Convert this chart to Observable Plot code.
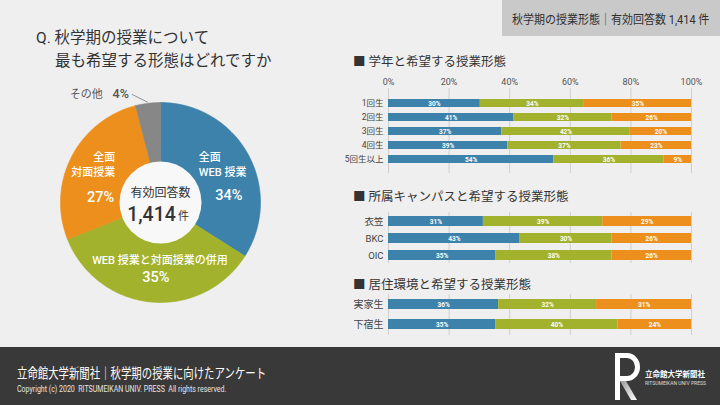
<!DOCTYPE html>
<html><head><meta charset="utf-8">
<script src="https://cdn.jsdelivr.net/npm/d3@7"></script>
<script src="https://cdn.jsdelivr.net/npm/@observablehq/plot@0.6"></script>
<style>
html,body{margin:0;padding:0;}
body{width:720px;height:405px;background:#efefef;position:relative;overflow:hidden;font-family:Roboto,"Noto Sans CJK JP",sans-serif;color:#333;}
.abs{position:absolute;white-space:nowrap;}
.hdr{font-size:12.5px;color:#333;}
</style></head>
<body>
<div class="abs" style="left:502px;top:0;width:218px;height:36px;background:#c9c9c9;"></div>
<div class="abs" style="left:512px;top:9px;font-size:12.5px;color:#2f2f2f;transform:scaleX(0.88);transform-origin:left top;">秋学期の授業形態｜有効回答数 1,414 件</div>
<div class="abs" style="left:36px;top:25px;font-size:15.5px;color:#333;">Q. 秋学期の授業について</div>
<div class="abs" style="left:55px;top:48px;font-size:15.5px;color:#333;">最も希望する形態はどれですか</div>

<div class="abs hdr" style="left:353px;top:51px;">■ 学年と希望する授業形態</div>
<div class="abs hdr" style="left:353px;top:186px;">■ 所属キャンパスと希望する授業形態</div>
<div class="abs hdr" style="left:353px;top:274px;">■ 居住環境と希望する授業形態</div>

<div id="donut" class="abs" style="left:40px;top:82px;"></div>
<div id="c1" class="abs" style="left:340px;top:68px;"></div>
<div id="c2" class="abs" style="left:340px;top:205px;"></div>
<div id="c3" class="abs" style="left:340px;top:288px;"></div>

<div class="abs" style="left:0;top:347px;width:720px;height:58px;background:#3a3939;"></div>
<div class="abs" style="left:17px;top:362px;font-size:13.5px;color:#fff;transform:scaleX(0.77);transform-origin:left top;">立命館大学新聞社｜秋学期の授業に向けたアンケート</div>
<div class="abs" style="left:17px;top:384px;font-size:9px;color:#e6e6e6;transform:scaleX(0.78);transform-origin:left top;">Copyright (c) 2020&nbsp; RITSUMEIKAN UNIV. PRESS&nbsp; All rights reserved.</div>
<svg class="abs" style="left:610px;top:350px;" width="32" height="54" viewBox="0 0 32 54">
  <defs><linearGradient id="lg" x1="0" y1="0" x2="1" y2="1"><stop offset="0" stop-color="#9a9a9a"/><stop offset="1" stop-color="#ffffff"/></linearGradient></defs>
  <rect x="5" y="3" width="5" height="47" fill="#fff"/>
  <path d="M7,5.5 H17 A10.5,11.5 0 0 1 17,28.5 H10" stroke="#fff" stroke-width="5" fill="none"/>
  <polygon points="10,31 16,31 27,50 21,50" fill="url(#lg)"/>
</svg>
<div class="abs" style="left:645px;top:368px;font-size:7.5px;color:#fff;font-weight:bold;">立命館大学新聞社</div>
<div class="abs" style="left:645px;top:380px;font-size:5px;color:#ddd;">RITSUMEIKAN UNIV PRESS</div>

<script>
// ---- data ----
const pieKeys = ["全面WEB授業", "WEB授業と対面授業の併用", "全面対面授業", "その他"];
const pieValues = [34, 35, 27, 4];
const pieColors = ["#3d82aa", "#a2b22d", "#ec8f1c", "#878787"];

const types = ["全面WEB授業", "WEB授業と対面授業の併用", "全面対面授業"];
const barColors = ["#3d82aa", "#a2b22d", "#ec8f1c"];

const gradeCats = ["1回生", "2回生", "3回生", "4回生", "5回生以上"];
const gradeWeb = [30, 41, 37, 39, 54];
const gradeBoth = [34, 32, 42, 37, 36];
const gradeFace = [35, 26, 20, 23, 9];

const campusCats = ["衣笠", "BKC", "OIC"];
const campusWeb = [31, 43, 35];
const campusBoth = [39, 30, 38];
const campusFace = [29, 26, 26];

const liveCats = ["実家生", "下宿生"];
const liveWeb = [36, 35];
const liveBoth = [32, 40];
const liveFace = [31, 24];

const xTicks = [0, 0.2, 0.4, 0.6, 0.8, 1];
const font = 'Roboto, "Noto Sans CJK JP", sans-serif';

// ---- donut ----
const R_OUT = 100, R_IN = 40, R_LAB = 70;
const pie = d3.pie().sort(null).value(d => d.value)(pieKeys.map((k, i) => ({key: k, value: pieValues[i]})));
const polar = (a, r) => [r * Math.sin(a), -r * Math.cos(a)];
const polyPts = [];
pie.forEach(s => {
  const n = 60;
  for (let i = 0; i <= n; i++) { const a = s.startAngle + (s.endAngle - s.startAngle) * i / n; const [x, y] = polar(a, R_OUT); polyPts.push({key: s.data.key, x, y}); }
  for (let i = n; i >= 0; i--) { const a = s.startAngle + (s.endAngle - s.startAngle) * i / n; const [x, y] = polar(a, R_IN); polyPts.push({key: s.data.key, x, y}); }
  const [x0, y0] = polar(s.startAngle, R_OUT); polyPts.push({key: s.data.key, x: x0, y: y0});
});
const slices = pie.map(s => {
  const mid = (s.startAngle + s.endAngle) / 2;
  const [cx, cy] = polar(mid, R_LAB);
  const [ox, oy] = polar(mid, R_OUT + 1);
  return {key: s.data.key, value: s.data.value, cx, cy, ox, oy};
});
const S = k => slices.filter(d => d.key === k);
const white = "#fff";

const donut = Plot.plot({
  width: 240, height: 240, margin: 0,
  x: {domain: [-120, 120], range: [0, 240], axis: null},
  y: {domain: [-120, 120], range: [0, 240], axis: null},
  color: {domain: pieKeys, range: pieColors},
  style: {background: "transparent", fontFamily: font},
  marks: [
    Plot.line(polyPts, {x: "x", y: "y", z: "key", fill: "key", stroke: "key", strokeWidth: 0.6, curve: "linear"}),
    Plot.dot([{x: 0, y: 0}], {x: "x", y: "y", r: R_IN + 1, fill: "#f8f8f8", stroke: "none"}),
    Plot.text(["有効回答数"], {frameAnchor: "middle", text: d => d, dy: -9, fontSize: 12, fill: "#333"}),
    Plot.text(["1,414"], {frameAnchor: "middle", text: d => d, dx: -9, dy: 12, fontSize: 19.5, fontWeight: 500, fill: "#333"}),
    Plot.text(["件"], {frameAnchor: "middle", text: d => d, dx: 23, dy: 14, fontSize: 11, fill: "#333"}),
    // WEB
    Plot.text(S("全面WEB授業"), {x: "cx", y: "cy", text: () => "全面\nWEB 授業", textAnchor: "start", lineHeight: 1.4, dx: -23, dy: -5, fontSize: 11, fill: white, fontWeight: 500}),
    Plot.text(S("全面WEB授業"), {x: "cx", y: "cy", text: d => d.value + "%", dx: 7, dy: 27, fontSize: 14.5, fill: white, fontWeight: 500}),
    // face
    Plot.text(S("全面対面授業"), {x: "cx", y: "cy", text: () => "全面\n対面授業", textAnchor: "end", lineHeight: 1.4, dx: 17, dy: -7, fontSize: 11, fill: white, fontWeight: 500}),
    Plot.text(S("全面対面授業"), {x: "cx", y: "cy", text: d => d.value + "%", textAnchor: "end", dx: 16, dy: 27, fontSize: 14.5, fill: white, fontWeight: 500}),
    // both
    Plot.text(S("WEB授業と対面授業の併用"), {x: "cx", y: "cy", text: () => "WEB 授業と対面授業の併用", dx: 6, dy: -12, fontSize: 11, fill: white, fontWeight: 500}),
    Plot.text(S("WEB授業と対面授業の併用"), {x: "cx", y: "cy", text: d => d.value + "%", dx: 2, dy: 5, fontSize: 14.5, fill: white, fontWeight: 500}),
    // other
    Plot.link(S("その他"), {x1: "ox", y1: "oy", x2: d => d.ox - 16, y2: d => d.oy - 8, stroke: "#777", strokeWidth: 0.8}),
    Plot.text(S("その他"), {x: "ox", y: "oy", text: d => d.value + "%", textAnchor: "end", dx: -19, dy: -8, fontSize: 12.5, fontWeight: 500, fill: "#555"}),
    Plot.text(S("その他"), {x: "ox", y: "oy", text: () => "その他", textAnchor: "end", dx: -45, dy: -8, fontSize: 11, fill: "#555"})
  ]
});
document.getElementById("donut").appendChild(donut);

// ---- bars ----
function rowsOf(cats, web, both, face) {
  const rows = [];
  cats.forEach((c, i) => {
    rows.push({cat: c, type: types[0], value: web[i]});
    rows.push({cat: c, type: types[1], value: both[i]});
    rows.push({cat: c, type: types[2], value: face[i]});
  });
  return rows;
}
function barChart(cats, web, both, face, o) {
  const rows = rowsOf(cats, web, both, face);
  const marks = [
    Plot.gridX({ticks: xTicks, stroke: "#cfcfcf", strokeOpacity: 1, strokeWidth: 1}),
    Plot.barX(rows, Plot.stackX({x: "value", y: "cat", fill: "type", offset: "normalize"})),
    Plot.text(rows, Plot.stackX({x: "value", y: "cat", text: d => d.value + "%", offset: "normalize", fill: "#fff", fontSize: 6.5, fontWeight: "bold"})),
    Plot.axisY({tickSize: 0, tickPadding: 5, label: null, fontSize: o.labelSize, fill: "#444"})
  ];
  if (o.topAxis) marks.push(Plot.axisX({anchor: "top", ticks: xTicks, tickSize: 0, tickPadding: 4, tickFormat: d3.format(".0%"), label: null, fontSize: 9, fill: "#555"}));
  return Plot.plot({
    width: 370, height: o.height,
    marginLeft: 48, marginRight: 19, marginTop: o.mt, marginBottom: o.mb,
    x: {domain: [0, 1], axis: null},
    y: {domain: cats, paddingInner: o.pi, paddingOuter: o.po, axis: null},
    color: {domain: types, range: barColors},
    style: {background: "transparent", fontFamily: font},
    marks
  });
}
document.getElementById("c1").appendChild(barChart(gradeCats, gradeWeb, gradeBoth, gradeFace, {height: 107, mt: 20, mb: 2, pi: 0.43, po: 0.55, labelSize: 8.5, topAxis: true}));
document.getElementById("c2").appendChild(barChart(campusCats, campusWeb, campusBoth, campusFace, {height: 61, mt: 7, mb: 3, pi: 0.43, po: 0.17, labelSize: 9.5}));
document.getElementById("c3").appendChild(barChart(liveCats, liveWeb, liveBoth, liveFace, {height: 50, mt: 6, mb: 3, pi: 0.49, po: 0.245, labelSize: 10}));
</script>
</body></html>
